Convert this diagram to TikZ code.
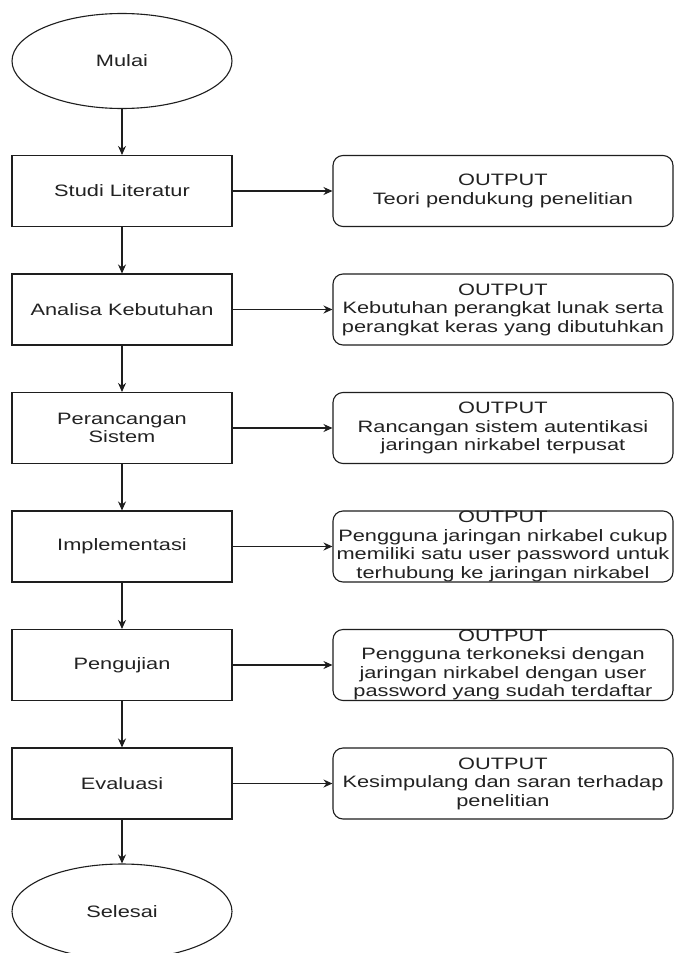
\documentclass[tikz,border=0pt]{standalone}
\usepackage{fontspec}
\setmainfont{Liberation Sans}[FakeStretch=1.32]
\usetikzlibrary{shapes.geometric,arrows.meta}
\definecolor{ink}{HTML}{1E1E1E}
\definecolor{txt}{HTML}{222222}
\tikzset{
  base/.style={draw=ink, line width=1.1pt, inner sep=0pt, align=center,
    text=txt, font=\fontsize{16.5}{18.5}\selectfont},
  terminal/.style={base, ellipse, minimum width=220, minimum height=95},
  stepbox/.style={base, rectangle, minimum width=220, minimum height=71},
  outbox/.style={base, rectangle, rounded corners=10pt, minimum width=340, minimum height=71},
  flow/.style={draw=ink, line width=1.1pt, -{Stealth[length=9pt,width=8pt]}}
}
\begin{document}
\begin{tikzpicture}[x=1pt, y=-1pt]
\clip (0,0) rectangle (674,953);
\fill[white] (0,0) rectangle (674,953);

% main column
\node[terminal] (mulai) at (122,61) {Mulai};
\node[stepbox] (s1) at (122,191) {Studi Literatur};
\node[stepbox] (s2) at (122,309.5) {Analisa Kebutuhan};
\node[stepbox] (s3) at (122,428) {Perancangan\\Sistem};
\node[stepbox] (s4) at (122,546.5) {Implementasi};
\node[stepbox] (s5) at (122,665) {Pengujian};
\node[stepbox] (s6) at (122,783.5) {Evaluasi};
\node[terminal] (selesai) at (122,911.5) {Selesai};

% outputs of each stage
\node[outbox] (o1) at (503,191) {OUTPUT\\Teori pendukung penelitian};
\node[outbox] (o2) at (503,309.5) {OUTPUT\\Kebutuhan perangkat lunak serta\\perangkat keras yang dibutuhkan};
\node[outbox] (o3) at (503,428) {OUTPUT\\Rancangan sistem autentikasi\\jaringan nirkabel terpusat};
\node[outbox] (o4) at (503,546.5) {OUTPUT\\Pengguna jaringan nirkabel cukup\\memiliki satu user password untuk\\terhubung ke jaringan nirkabel};
\node[outbox] (o5) at (503,665) {OUTPUT\\Pengguna terkoneksi dengan\\jaringan nirkabel dengan user\\password yang sudah terdaftar};
\node[outbox] (o6) at (503,783.5) {OUTPUT\\Kesimpulang dan saran terhadap\\penelitian};

% vertical flow
\draw[flow] (mulai) -- (s1);
\draw[flow] (s1) -- (s2);
\draw[flow] (s2) -- (s3);
\draw[flow] (s3) -- (s4);
\draw[flow] (s4) -- (s5);
\draw[flow] (s5) -- (s6);
\draw[flow] (s6) -- (selesai);

% stage to output
\draw[flow] (s1) -- (o1);
\draw[flow] (s2) -- (o2);
\draw[flow] (s3) -- (o3);
\draw[flow] (s4) -- (o4);
\draw[flow] (s5) -- (o5);
\draw[flow] (s6) -- (o6);
\end{tikzpicture}
\end{document}
